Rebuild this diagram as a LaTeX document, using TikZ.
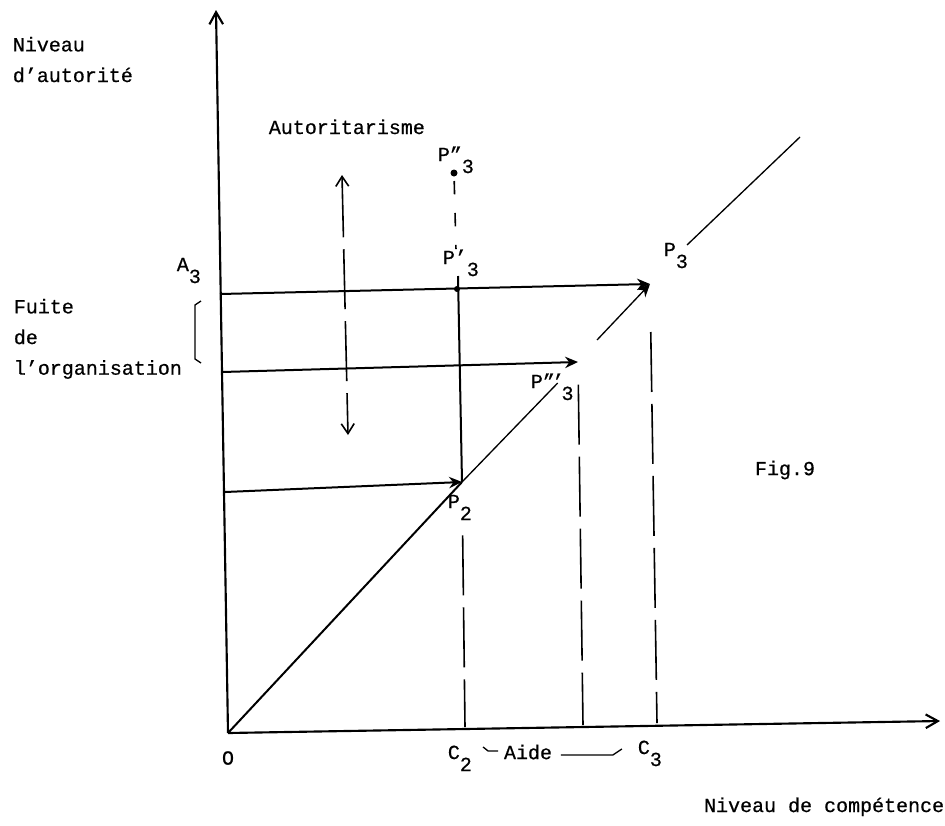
\documentclass[tikz,border=0pt]{standalone}
\usepackage{fontspec}
\setmainfont{Liberation Mono}[FakeBold=0.6]
\usetikzlibrary{arrows.meta}
\newcommand{\typesub}[1]{\raisebox{-9pt}{#1}}
\tikzset{
  every picture/.style={line width=1.3pt},
  axis/.style={line width=1.6pt, -{Straight Barb[length=3.2mm, width=3.6mm]}},
  level/.style={line width=1.5pt},
  thinline/.style={line width=1pt},
  guide/.style={line width=1.2pt, dash pattern=on 45pt off 9pt},
  hint/.style={line width=1.2pt, dash pattern=on 10pt off 14pt},
  tip/.style={-{Stealth[length=3.4mm, width=3mm]}},
  lbl/.style={inner sep=0pt, font=\fontsize{15}{23}\selectfont},
  txt/.style={lbl, align=left},
}

\begin{document}
\begin{tikzpicture}[x=0.75pt, y=-0.75pt]
  \useasboundingbox (0,0) rectangle (945,825);
  % points of the figure
  \coordinate (O) at (228,733);
  \coordinate (ytop) at (216,10);
  \coordinate (xend) at (940,721);
  \coordinate (A3) at (220,294);
  \coordinate (L3) at (222,372);
  \coordinate (L2) at (225,492);
  \coordinate (P3) at (650,284);
  \coordinate (P3a) at (457,289);
  \coordinate (P3aup) at (458,276);
  \coordinate (P3b) at (454,173);
  \coordinate (P3c) at (578,362);
  \coordinate (P2) at (462,482);
  \coordinate (D1) at (597,340);
  \coordinate (D2) at (687,245);
  \coordinate (D3) at (800,137);
  \coordinate (C2) at (465,727);
  \coordinate (C3c) at (583,725);
  \coordinate (C3) at (657,723);
  \coordinate (Aup) at (342,175);
  \coordinate (Adn) at (348,435);
  \coordinate (brT) at (201,301);
  \coordinate (brB) at (201,363);

  % axes
  \draw[axis] (O) -- (ytop);
  \draw[axis] (O) -- (xend);

  % authority levels
  \draw[level, tip] (A3) -- (P3);
  \draw[level, tip] (L3) -- (P3c);
  \draw[level, tip] (L2) -- (P2);
  \fill (P3a) circle (3);
  \fill (P3b) circle (3.5);

  % diagonal
  \draw[level] (O) -- (P2);
  \draw[thinline, shorten >=22pt] (P2) -- (P3c);
  \draw[thinline, tip] (D1) -- (P3);
  \draw[thinline] (D2) -- (D3);

  % verticals
  \draw[level] (P3aup) -- (P2);
  \draw[hint, shorten <=6pt, shorten >=30pt] (P3b) -- (P3a);
  \draw[guide, shorten <=40pt] (P2) -- (C2);
  \draw[guide, shorten <=17pt] (P3c) -- (C3c);
  \draw[guide, shorten <=36pt] (P3) -- (C3);
  \draw[guide, {Straight Barb[length=2.6mm, width=3.4mm]}-{Straight Barb[length=2.6mm, width=3.4mm]}] (Aup) -- (Adn);
  \draw[thinline] (brT) -- ++(-6,4) -- ++(0,54) -- (brB);

  % labels
  \node[txt, anchor=north west] (yname) at (12,36) {Niveau\\d'autorité};
  \node[txt, anchor=north west] (fuite) at (13,298) {Fuite\\de\\l'organisation};
  \node[lbl, anchor=base west] (autor) at (268,134) {Autoritarisme};
  \node[lbl, anchor=base west] (lP3b) at (437,161) {P"\typesub{3}};
  \node[lbl, anchor=base west] (lP3a) at (442,264) {P'\typesub{3}};
  \node[lbl, anchor=base west] (lP3) at (663,256) {P\typesub{3}};
  \node[lbl, anchor=base west] (lP3c) at (530,388) {P"\kern-2pt'\kern-2pt\typesub{3}};
  \node[lbl, anchor=base west] (lP2) at (447,508) {P\typesub{2}};
  \node[lbl, anchor=base west] (lA3) at (176,271) {A\typesub{3}};
  \node[lbl] (lO) at (228,758) {O};
  \node[lbl, anchor=base west] (lC2) at (447,759) {C\typesub{2}};
  \node[lbl] (aide) at (528,752) {Aide};
  \node[lbl, anchor=base west] (lC3) at (637,754) {C\typesub{3}};
  \node[lbl] (fig) at (785,470) {Fig.9};
  \node[lbl, anchor=base east] (xname) at (945,812) {Niveau de compétence};

  % Aide between C2 and C3
  \draw[thinline] (aide.west) ++(-20,-5) -- ++(5,4) -- ++(10,0);
  \draw[thinline] (aide.east) ++(8,3) -- ++(52,0) -- ++(9,-6);
\end{tikzpicture}
\end{document}
